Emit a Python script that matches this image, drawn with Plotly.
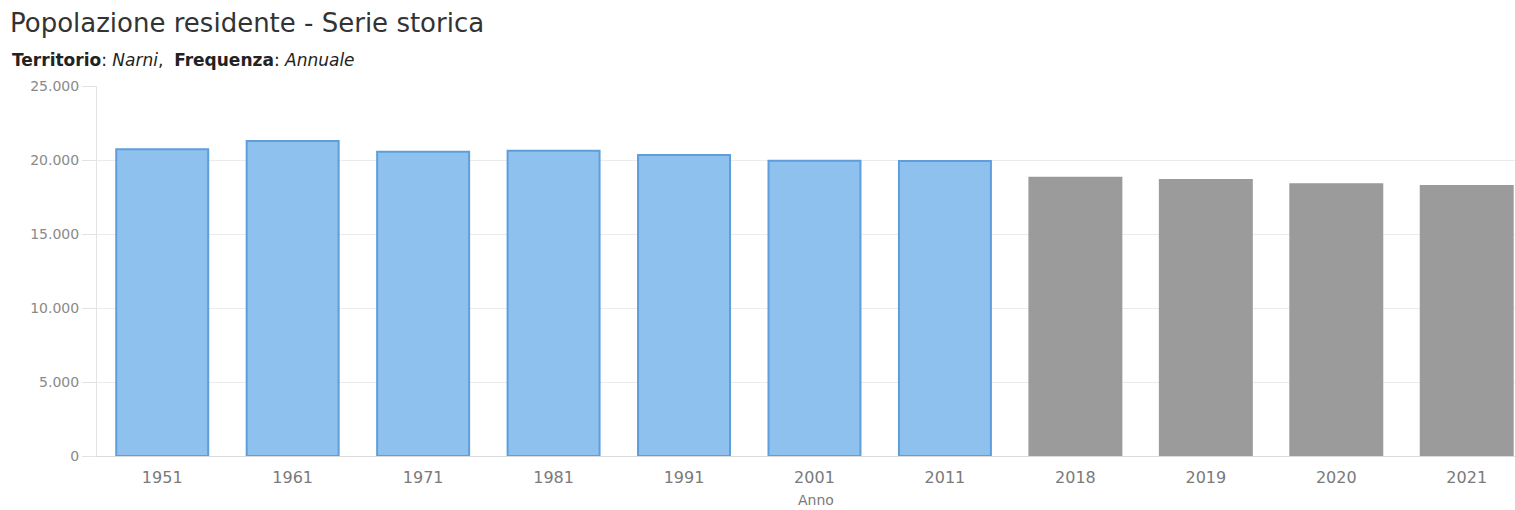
import plotly.graph_objects as go

anni = ["1951", "1961", "1971", "1981", "1991", "2001", "2011", "2018", "2019", "2020", "2021"]
popolazione = [20724, 21284, 20562, 20630, 20338, 19953, 19933, 18806, 18649, 18357, 18243]
tipo = ["censimento"] * 7 + ["annuale"] * 4

colori_fill = {"censimento": "#8fc1ef", "annuale": "#9b9b9b"}
colori_bordo = {"censimento": "#5d9edb", "annuale": "#9b9b9b"}

y_ticks = [0, 5000, 10000, 15000, 20000, 25000]

W, H = 1515, 510
ML, MR, MT, MB = 97, 0, 86, 54
PW, PH = W - ML - MR, H - MT - MB

fig = go.Figure()
fig.add_trace(go.Bar(
    x=anni,
    y=popolazione,
    marker=dict(
        color=[colori_fill[t] for t in tipo],
        line=dict(color=[colori_bordo[t] for t in tipo], width=2),
    ),
    hovertemplate="%{x}: %{y:,}<extra></extra>",
))

fig.update_layout(
    width=W, height=H,
    margin=dict(l=ML, r=MR, t=MT, b=MB),
    paper_bgcolor="white", plot_bgcolor="white",
    separators=",.",
    bargap=0.295,
    showlegend=False,
    font=dict(family="DejaVu Sans", color="#777"),
    title=dict(
        text="Popolazione residente - Serie storica",
        x=10 / W, xanchor="left", xref="container",
        y=1 - 23 / H, yanchor="middle", yref="container",
        font=dict(family="DejaVu Sans", size=26, color="#333"),
    ),
    annotations=[
        dict(
            text="<b>Territorio</b>: <i>Narni</i>,  <b>Frequenza</b>: <i>Annuale</i>",
            xref="paper", yref="paper",
            x=(10 - ML) / PW, y=1 + (86 - 60) / PH,
            xanchor="left", yanchor="middle", showarrow=False,
            font=dict(family="DejaVu Sans", size=17, color="#222"),
        ),
        dict(
            text="Anno",
            xref="paper", yref="paper",
            x=(816 - ML) / PW, y=-(500 - 456) / PH,
            xanchor="center", yanchor="middle", showarrow=False,
            font=dict(family="DejaVu Sans", size=14, color="#7a7a7a"),
        ),
    ],
    xaxis=dict(
        type="category",
        range=[-0.5, 10.37],
        showgrid=False,
        showline=True, linecolor="#dcdcdc", linewidth=1,
        ticks="", ticklabelstandoff=7,
        tickfont=dict(family="DejaVu Sans", size=16, color="#7a7a7a"),
    ),
    yaxis=dict(
        range=[0, 25000],
        tickvals=y_ticks,
        tickformat=",d",
        showgrid=True, gridcolor="#ebebeb", gridwidth=1,
        zeroline=False,
        showline=True, linecolor="#e3e3e3", linewidth=1,
        ticks="outside", ticklen=14, tickcolor="#e3e3e3",
        tickfont=dict(family="DejaVu Sans", size=14, color="#8a8a8a"),
    ),
)

fig.write_html(
    "out.html",
    config={"displayModeBar": False},
    post_script="document.body.style.margin='0';document.body.style.overflow='hidden';",
)
